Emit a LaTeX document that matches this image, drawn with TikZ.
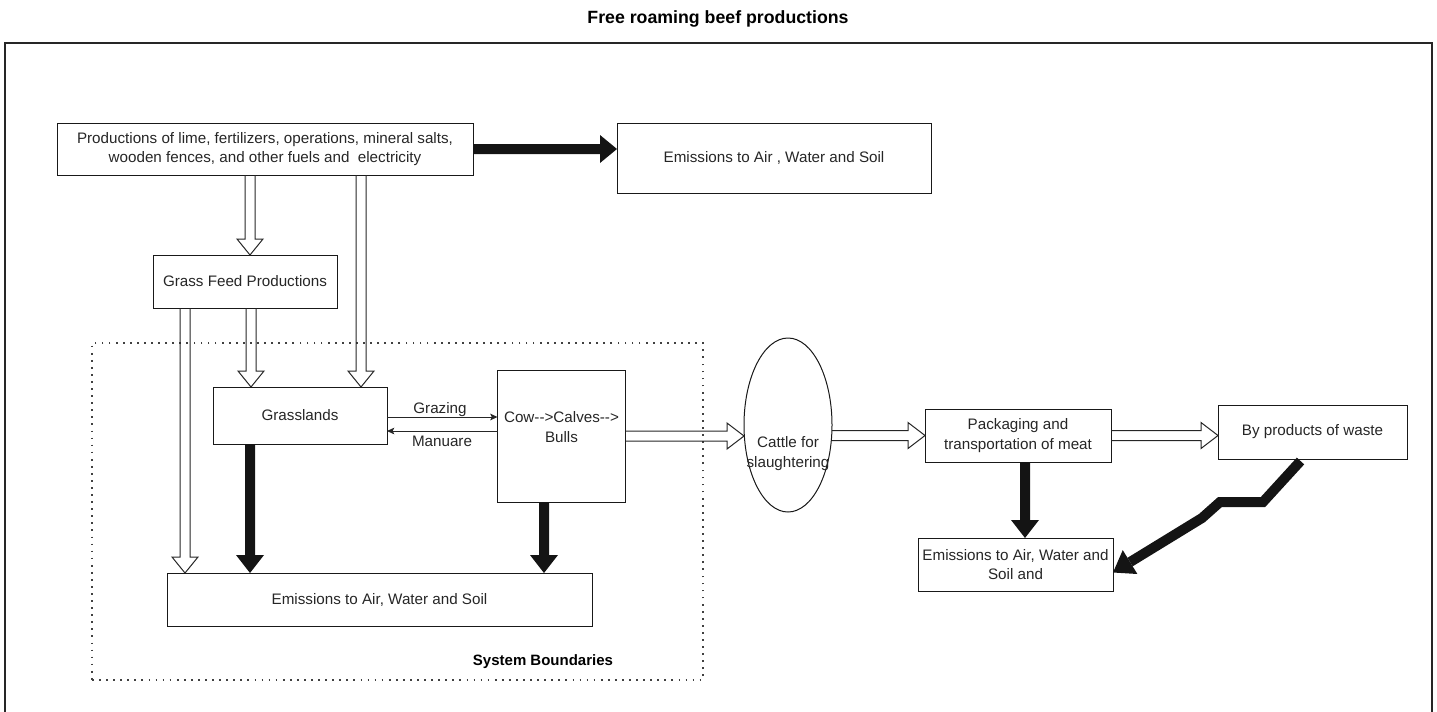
\documentclass[tikz,border=0pt]{standalone}
\usepackage{fontspec}
\setmainfont{Liberation Sans}
\usetikzlibrary{calc,shapes.geometric,arrows.meta}

% hollow block arrow pointing down / right, from #1 to #2 (tip)
\newcommand\flexdown[2]{%
  \draw[flexline] ($(#1)+(-5,0)$) -- ($(#2)+(-5,-16)$) -- ($(#2)+(-13,-16)$) -- (#2)
    -- ($(#2)+(13,-16)$) -- ($(#2)+(5,-16)$) -- ($(#1)+(5,0)$);}
\newcommand\flexright[2]{%
  \draw[flexline] ($(#1)+(0,-5)$) -- ($(#2)+(-17,-5)$) -- ($(#2)+(-17,-13)$) -- (#2)
    -- ($(#2)+(-17,13)$) -- ($(#2)+(-17,5)$) -- ($(#1)+(0,5)$);}
% solid block arrow pointing down / right
\newcommand\soliddown[2]{%
  \fill[solidfill] ($(#1)+(-5,0)$) -- ($(#2)+(-5,-18)$) -- ($(#2)+(-14,-18)$) -- (#2)
    -- ($(#2)+(14,-18)$) -- ($(#2)+(5,-18)$) -- ($(#1)+(5,0)$) -- cycle;}
\newcommand\solidright[2]{%
  \fill[solidfill] ($(#1)+(0,-5)$) -- ($(#2)+(-17,-5)$) -- ($(#2)+(-17,-14)$) -- (#2)
    -- ($(#2)+(-17,14)$) -- ($(#2)+(-17,5)$) -- ($(#1)+(0,5)$) -- cycle;}

\tikzset{
  px/.style 2 args={minimum width={(#1)*0.75pt}, minimum height={(#2)*0.75pt}},
  basefont/.style={font=\fontsize{11.4}{14.5}\selectfont},
  box/.style={draw=black!90, line width=0.75pt, inner sep=0pt, outer sep=0pt,
    align=center, text=black!85, basefont},
  ellip/.style={box, ellipse},
  lbl/.style={inner sep=0pt, align=center, text=black!85, basefont},
  boldlbl/.style={inner sep=0pt, text=black, font=\fontsize{11.25}{14.5}\selectfont\bfseries},
  titlef/.style={inner sep=0pt, text=black, font=\fontsize{13.3}{16}\selectfont\bfseries},
  bound/.style={draw=black!75, line width=1.3pt, dash pattern=on 1.3pt off 4pt,
    inner sep=0pt, outer sep=0pt},
  framel/.style={draw=black!85, line width=0.9pt},
  flexline/.style={draw=black!85, line width=0.75pt, line join=miter},
  solidfill/.style={fill=black!92},
  smallarrow/.style={draw=black!85, line width=0.75pt,
    -{Stealth[length=5.5pt,width=5pt,inset=1.2pt]}},
}

\begin{document}
\begin{tikzpicture}[x=0.75pt,y=-0.75pt]
\useasboundingbox (0,0) rectangle (1437,711);
\clip (0,0) rectangle (1437,711);

% outer frame and title
\draw[framel] (5,43) rectangle (1432,740);
\node[titlef] (title) at (718,19) {Free roaming beef productions};

% boxes
\node[box, px={416}{52}] (prod) at (265,149)
  {Productions of lime, fertilizers, operations, mineral salts,\\wooden fences, and other fuels and\ \ electricity};
\node[box, px={314}{70}] (emtop) at (774,158) {Emissions to Air , Water and Soil};
\node[box, px={184}{53}] (gfp) at (245,281.5) {Grass Feed Productions};

\node[bound, px={611}{337}] (sysb) at (397.5,511.5) {};
\node[boldlbl] (sysbl) at (543,662) {System Boundaries};

\node[box, px={174}{57}] (grass) at (300,415.5) {Grasslands};
\node[box, px={128}{132}] (cow) at (561.5,436) {};
\node[lbl] (cowt) at (561.5,427) {Cow-{}->Calves-{}->\\Bulls};
\node[ellip, px={88}{174}] (cattle) at (788,425) {};
\node[lbl] (cattlet) at (788,453.5) {Cattle for\\slaughtering};
\node[box, px={186}{53}] (pack) at (1018,435.5) {Packaging and\\transportation of meat};
\node[box, px={189}{54}] (byp) at (1312.5,432) {By products of waste};
\node[box, px={195}{53}] (emr) at (1015.5,564.5) {Emissions to Air, Water and\\Soil and};
\node[box, px={425}{53}] (emb) at (379.5,599.5) {Emissions to Air, Water and Soil};

% columns of the vertical arrows
\coordinate (xa) at (250,0);
\coordinate (xb) at (361,0);
\coordinate (xc) at (251,0);
\coordinate (xd) at (185,0);
\coordinate (xe) at (250,0);
\coordinate (xf) at (544,0);
\coordinate (xg) at (1025,0);

% hollow flows
\coordinate (a1) at (prod.south -| xa); \coordinate (a2) at (gfp.north -| xa);
\coordinate (b1) at (prod.south -| xb); \coordinate (b2) at (grass.north -| xb);
\coordinate (c1) at (gfp.south -| xc);  \coordinate (c2) at (grass.north -| xc);
\coordinate (d1) at (gfp.south -| xd);  \coordinate (d2) at (emb.north -| xd);
\flexdown{a1}{a2}
\flexdown{b1}{b2}
\flexdown{c1}{c2}
\flexdown{d1}{d2}

\coordinate (e1) at (cow.east);        \coordinate (e2) at (cattle.west |- cow.east);
\coordinate (f1) at (cattle.east |- pack.west); \coordinate (f2) at (pack.west);
\coordinate (g1) at (pack.east);       \coordinate (g2) at (byp.west |- pack.east);
\flexright{e1}{e2}
\flexright{f1}{f2}
\flexright{g1}{g2}

% emission flows
\coordinate (s1) at (prod.east); \coordinate (s2) at (emtop.west |- prod.east);
\solidright{s1}{s2}
\coordinate (t1) at (grass.south -| xe); \coordinate (t2) at (emb.north -| xe);
\coordinate (u1) at (cow.south -| xf);   \coordinate (u2) at (emb.north -| xf);
\coordinate (v1) at (pack.south -| xg);  \coordinate (v2) at (emr.north -| xg);
\soliddown{t1}{t2}
\soliddown{u1}{u2}
\soliddown{v1}{v2}

% waste emissions, bent arrow
\coordinate (z0) at ($(byp.south)+(-12,2)$);
\coordinate (z1) at (1263,502);
\coordinate (z2) at (1220,502);
\coordinate (z3) at (1202,518);
\coordinate (zt) at ($(emr.east)+(0,8)$);
\coordinate (zb) at ($(zt)!15pt!(z3)$);
\draw[black!92, line width=7.5pt, line join=miter] (z0) -- (z1) -- (z2) -- (z3) -- (zb);
\fill[solidfill] (zt) -- ($(zb)!10.5pt!90:(zt)$) -- ($(zb)!10.5pt!-90:(zt)$) -- cycle;

% grazing and manure exchange
\coordinate (yg) at (0,417);
\coordinate (ym) at (0,431);
\draw[smallarrow] (grass.east |- yg) -- (cow.west |- yg);
\draw[smallarrow] (cow.west |- ym) -- (grass.east |- ym);
\node[lbl] (grz) at (440,410) {Grazing};
\node[lbl] (man) at (442,441) {Manuare};
\end{tikzpicture}
\end{document}
